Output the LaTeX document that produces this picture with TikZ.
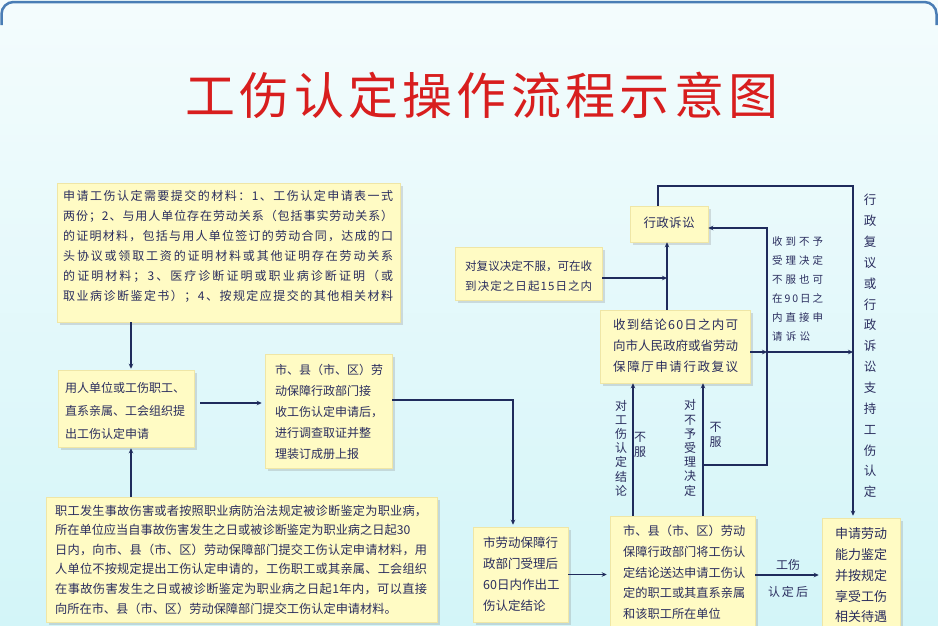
\documentclass[tikz,border=0pt]{standalone}
\usepackage{fontspec}
\setmainfont{Noto Sans CJK SC}
\usetikzlibrary{arrows.meta,shadows}
\definecolor{bgtop}{HTML}{F4FCFD}
\definecolor{bgbot}{HTML}{D3F5F8}
\definecolor{boxfill}{HTML}{FFFBC4}
\definecolor{boxedge}{HTML}{EFE6A6}
\definecolor{ink}{HTML}{2A2D5E}
\definecolor{conn}{HTML}{1F2B5C}
\definecolor{titlered}{HTML}{D81E1E}
\definecolor{framec}{HTML}{4A7DB5}
\def\spr#1{\sprA#1\relax}
\def\sprA#1{\ifx\relax#1\else#1\hfil\expandafter\sprA\fi}
\newcommand\jl[2]{\hbox to #1{\spr{#2}\unskip}}
\newcommand\fs[2]{\fontsize{#1}{#2}\selectfont}
\tikzset{
  box/.style={fill=boxfill, draw=boxedge, line width=0.5pt, inner sep=0pt,
    drop shadow={shadow xshift=2.5pt, shadow yshift=-2.5pt, opacity=0.25, fill=black!50}},
  txt/.style={inner sep=0pt, text=ink, align=left, anchor=west},
  vtxt/.style={inner sep=0pt, text=ink, align=center, anchor=center},
  arr/.style={draw=conn, line width=1.1pt, -{Stealth[length=5pt,width=4.5pt]}},
}
\begin{document}
\begin{tikzpicture}[x=1pt,y=-1pt]
\useasboundingbox (0,0) rectangle (938,625);
\fill[top color=bgtop, bottom color=bgbot] (0,0) rectangle (938,625);
\draw[draw=framec, line width=2.5pt, rounded corners=12pt] (1.5,25) -- (1.5,2) -- (936.5,2) -- (936.5,25);

% title
\node[text=titlered, inner sep=0pt, font=\fs{50}{50}] (T) at (482,95) {\jl{593pt}{工伤认定操作流程示意图}};

% boxes
\node[box, minimum width=343pt, minimum height=139pt] (A) at (228.5,252.5) {};
\node[box, minimum width=136pt, minimum height=77pt] (B) at (126,408.5) {};
\node[box, minimum width=127pt, minimum height=114pt] (C) at (328.5,411) {};
\node[box, minimum width=391pt, minimum height=125pt] (D) at (241.5,559.5) {};
\node[box, minimum width=95pt, minimum height=95pt] (E) at (520.5,574.5) {};
\node[box, minimum width=145pt, minimum height=112pt] (F) at (682.5,572) {};
\node[box, minimum width=150pt, minimum height=73pt] (G) at (675,346.5) {};
\node[box, minimum width=147pt, minimum height=53pt] (I) at (528.5,273.5) {};
\node[box, minimum width=78pt, minimum height=36pt] (L) at (669,224) {};
\node[box, minimum width=78pt, minimum height=110pt] (H) at (861,573) {};

% junction coordinates
\coordinate (br) at (703,465);
\coordinate (rr) at (767,465);
\coordinate (gx) at (767,352);
\coordinate (tr) at (853,186);
\coordinate (vx) at (667,278);

% connectors
\draw[arr] ([xshift=5pt]B.north |- A.south) -- ([xshift=5pt,yshift=1pt]B.north);
\draw[arr] ([xshift=5pt]B.south |- D.north) -- ([xshift=5pt,yshift=-1pt]B.south);
\draw[arr] ([yshift=5.5pt,xshift=6pt]B.east) -- ([yshift=5.5pt,xshift=-3pt]B.east -| C.west);
\draw[arr] ([yshift=11pt]C.east) -| ([xshift=-7.5pt,yshift=2pt]E.north);
\draw[arr] (E.east) -- ([xshift=-3pt]E.east -| F.west);
\draw[arr] ([xshift=-49.5pt]F.north) -- ([xshift=-49.5pt]F.north |- G.south);
\draw[arr] ([xshift=20.5pt]F.north) -- ([xshift=20.5pt]F.north |- G.south);
\draw[arr] (br) -- (rr) |- ([yshift=-4pt]L.east);
\draw[arr] ([yshift=-5.5pt]G.east) -- (gx);
\draw[arr] (gx) -- (gx -| tr);
\draw[arr] ([xshift=-11pt]L.north) |- (tr) -- ([xshift=-8pt,yshift=2pt]H.north);
\draw[arr] ([xshift=-8pt]G.north) -- ([xshift=-8pt]G.north |- L.south);
\draw[arr] ([yshift=-4.5pt]I.east) -- (vx);
\draw[arr] ([yshift=-3pt]F.east) -- ([yshift=-3pt,xshift=-3pt]F.east -| H.west);

% texts
\node[txt, font=\fs{12}{20}] (At) at (63,246) {\jl{330pt}{申请工伤认定需要提交的材料：1、工伤认定申请表一式}\\
\jl{330pt}{两份；2、与用人单位存在劳动关系（包括事实劳动关系）}\\
\jl{330pt}{的证明材料，包括与用人单位签订的劳动合同，达成的口}\\
\jl{330pt}{头协议或领取工资的证明材料或其他证明存在劳动关系}\\
\jl{330pt}{的证明材料；3、医疗诊断证明或职业病诊断证明（或}\\
\jl{330pt}{取业病诊断鉴定书）；4、按规定应提交的其他相关材料}};

\node[txt, font=\fs{12}{23}] (Bt) at (65,411) {用人单位或工伤职工、\\直系亲属、工会组织提\\出工伤认定申请};

\node[txt, font=\fs{12}{21}] (Ct) at (275,412) {市、县（市、区）劳\\动保障行政部门接\\收工伤认定申请后，\\进行调查取证并整\\理装订成册上报};

\node[txt, font=\fs{12.2}{19.6}] (Dt) at (55,559.5) {\jl{372pt}{职工发生事故伤害或者按照职业病防治法规定被诊断鉴定为职业病，}\\
所在单位应当自事故伤害发生之日或被诊断鉴定为职业病之日起30\\
\jl{372pt}{日内，向市、县（市、区）劳动保障部门提交工伤认定申请材料，用}\\
\jl{372pt}{人单位不按规定提出工伤认定申请的，工伤职工或其亲属、工会组织}\\
\jl{372pt}{在事故伤害发生之日或被诊断鉴定为职业病之日起1年内，可以直接}\\
向所在市、县（市、区）劳动保障部门提交工伤认定申请材料。};

\node[txt, font=\fs{12.5}{21}] (Et) at (483,574) {市劳动保障行\\政部门受理后\\60日内作出工\\伤认定结论};

\node[txt, font=\fs{12.2}{20.75}] (Ft) at (623,572.5) {市、县（市、区）劳动\\保障行政部门将工伤认\\定结论送达申请工伤认\\定的职工或其直系亲属\\和该职工所在单位};

\node[txt, font=\fs{12.5}{21}] (Gt) at (613,346) {\jl{125pt}{收到结论60日之内可}\\向市人民政府或省劳动\\\jl{125pt}{保障厅申请行政复议}};

\node[txt, font=\fs{11.5}{20}] (It) at (465,276) {\jl{127pt}{对复议决定不服，可在收}\\\jl{127pt}{到决定之日起15日之内}};

\node[vtxt, font=\fs{12.5}{15}] (Lt) at (669,223) {\jl{51pt}{行政诉讼}};

\node[vtxt, font=\fs{13}{20.75}] (Ht) at (861,575.5) {申请劳动\\能力鉴定\\并按规定\\享受工伤\\相关待遇};

\node[vtxt, font=\fs{12}{14.2}] (v1) at (621,448) {对\\工\\伤\\认\\定\\结\\论};
\node[vtxt, font=\fs{12}{15}] (v2) at (640,444.5) {不\\服};
\node[vtxt, font=\fs{12}{14.2}] (v3) at (690,448) {对\\不\\予\\受\\理\\决\\定};
\node[vtxt, font=\fs{12}{15}] (v4) at (715.5,435) {不\\服};

\node[txt, font=\fs{10.5}{19}] (sl) at (772,289.5) {\jl{51pt}{收到不予}\\\jl{51pt}{受理决定}\\\jl{51pt}{不服也可}\\\jl{51pt}{在9 0日之}\\\jl{51pt}{内直接申}\\\jl{38pt}{请诉讼}};

\node[vtxt, font=\fs{12.5}{20.86}] (rv) at (870,346) {行\\政\\复\\议\\或\\行\\政\\诉\\讼\\支\\持\\工\\伤\\认\\定};

\node[vtxt, font=\fs{12}{15}] (k1) at (788,565) {工伤};
\node[vtxt, font=\fs{12}{15}] (k2) at (788,592) {\jl{40pt}{认定后}};
\end{tikzpicture}
\end{document}
